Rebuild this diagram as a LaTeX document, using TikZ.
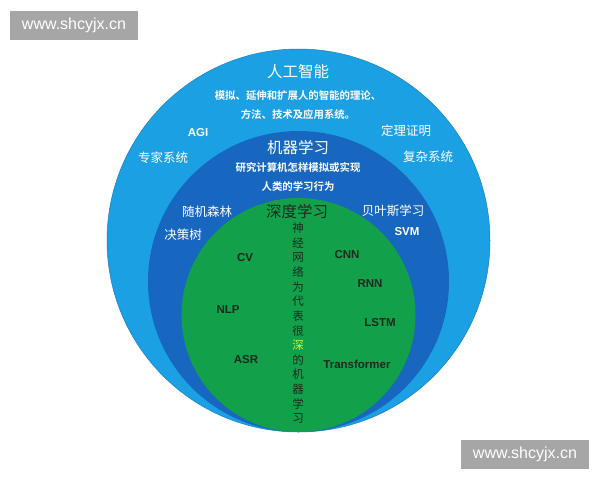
\documentclass[tikz,border=0pt]{standalone}
\usepackage{fontspec}
\setmainfont{Liberation Sans}
\newfontfamily\cjk{Noto Sans CJK SC}
\newfontfamily\cjkb{Noto Sans CJK SC Bold}
\definecolor{skyb}{HTML}{1CA0E4}
\definecolor{skyedge}{HTML}{1A7FBF}
\definecolor{deepb}{HTML}{1767C0}
\definecolor{leaf}{HTML}{13A04A}
\definecolor{ink}{HTML}{1B2A1E}
\definecolor{lime}{HTML}{C8F53C}
\definecolor{wmgray}{HTML}{A6A6A6}
\tikzset{
  ring/.style={draw=skyedge, line width=0.5pt},
  big/.style={text=white, font=\cjk\fontsize{15.5}{18}\selectfont, inner sep=0pt},
  desc/.style={text=white, font=\cjkb\fontsize{10.4}{12}\selectfont, inner sep=0pt},
  term/.style={text=white, font=\cjk\fontsize{12.5}{15}\selectfont, inner sep=0pt},
  latw/.style={text=white, font=\bfseries\fontsize{11.5}{13}\selectfont, inner sep=0pt},
  latd/.style={text=ink, font=\bfseries\fontsize{11.5}{13}\selectfont, inner sep=0pt},
  vchar/.style={text=ink, font=\cjk\fontsize{11.5}{12}\selectfont, inner sep=0pt},
  wm/.style={fill=wmgray, text=white, font=\fontsize{16}{18}\selectfont, minimum width=128pt, minimum height=29pt, inner sep=0pt}
}
\begin{document}
\begin{tikzpicture}[x=1pt,y=-1pt]
\useasboundingbox (0,0) rectangle (600,480);
\fill[white] (0,0) rectangle (600,480);
% circles tangent at bottom (299,432)
\fill[skyb] (298.5,240.5) circle (191.5);
\draw[ring] (298.5,240.5) circle (191.5);
\fill[deepb] (298.5,281.5) circle (150.5);
\fill[leaf] (298.5,315) circle (117);
% outer ring texts
\node[big] (ai) at (298,72) {人工智能};
\node[desc] (aid1) at (298,96) {模拟、延伸和扩展人的智能的理论、};
\node[desc] (aid2) at (298,115) {方法、技术及应用系统。};
\node[latw] (agi) at (198,133) {AGI};
\node[term] (thm) at (406,131) {定理证明};
\node[term] (exp) at (163,158) {专家系统};
\node[term] (cpx) at (428,157) {复杂系统};
% middle ring texts
\node[big] (ml) at (298,148) {机器学习};
\node[desc] (mld1) at (298,168) {研究计算机怎样模拟或实现};
\node[desc] (mld2) at (298,187) {人类的学习行为};
\node[term] (rf) at (207,212) {随机森林};
\node[term] (dt) at (183,235) {决策树};
\node[term] (bayes) at (393,211) {贝叶斯学习};
\node[latw] (svm) at (407,232) {SVM};
% inner circle
\node[big, text=ink] (dl) at (297,212) {深度学习};
\node[vchar] (v1) at (298,228.5) {神};
\node[vchar] (v2) at (298,243.1) {经};
\node[vchar] (v3) at (298,257.7) {网};
\node[vchar] (v4) at (298,272.3) {络};
\node[vchar] (v5) at (298,286.9) {为};
\node[vchar] (v6) at (298,301.5) {代};
\node[vchar] (v7) at (298,316.1) {表};
\node[vchar] (v8) at (298,330.7) {很};
\node[vchar, text=lime] (v9) at (298,345.3) {深};
\node[vchar] (v10) at (298,359.9) {的};
\node[vchar] (v11) at (298,374.5) {机};
\node[vchar] (v12) at (298,389.1) {器};
\node[vchar] (v13) at (298,403.7) {学};
\node[vchar] (v14) at (298,418.3) {习};
\node[latd] (cv) at (245,258) {CV};
\node[latd] (cnn) at (347,255) {CNN};
\node[latd] (rnn) at (370,284) {RNN};
\node[latd] (nlp) at (228,310) {NLP};
\node[latd] (lstm) at (380,323) {LSTM};
\node[latd] (asr) at (246,360) {ASR};
\node[latd] (tf) at (357,364) {Transformer};
% watermarks
\node[wm] (wm1) at (74,25) {www.shcyjx.cn};
\node[wm] (wm2) at (525,454.5) {www.shcyjx.cn};
\end{tikzpicture}
\end{document}
